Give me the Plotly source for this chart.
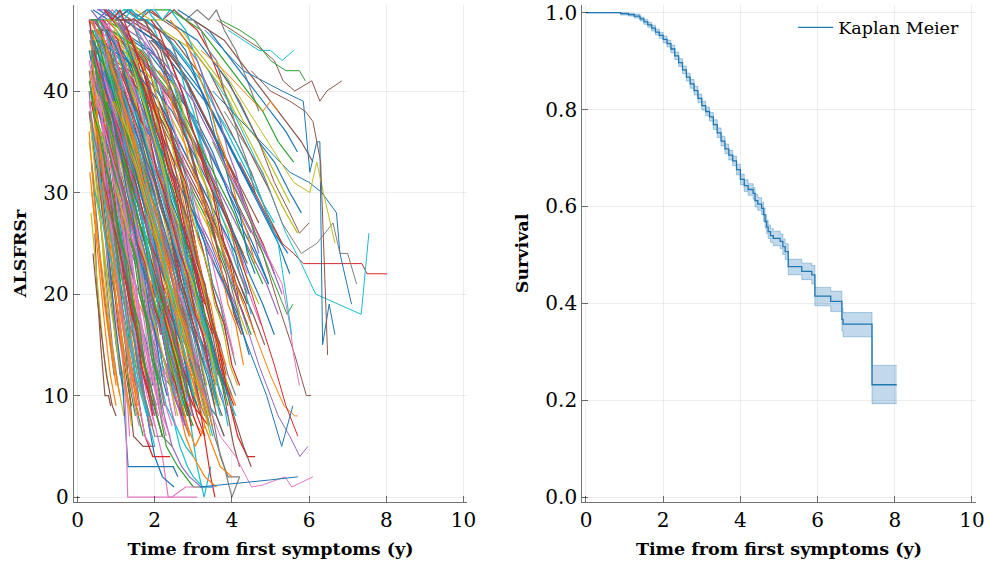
import plotly.graph_objects as go

# ---------------- DATA ----------------
# ALSFRSr trajectories: each patient is a list of [time (y), score] visits
rapid_patients = [
    [[0.32,47],[0.45,40],[0.6,31],[0.8,22],[1.0,15],[1.2,10]],
    [[0.35,44],[0.5,36],[0.7,27],[0.9,19],[1.1,12]],
    [[0.3,40],[0.45,33],[0.6,27],[0.75,21],[0.9,15],[1.05,11]],
    [[0.38,46],[0.55,41],[0.75,34],[1.0,26],[1.3,18],[1.6,11],[1.9,7]],
    [[0.42,38],[0.55,30],[0.7,22],[0.85,16],[1.0,12],[1.2,8]],
    [[0.45,26],[0.5,21],[0.6,15],[0.71,10],[0.8,10],[0.86,9]],
    [[0.36,43],[0.5,37],[0.7,30],[0.95,23],[1.2,16],[1.45,10],[1.7,6]],
    [[0.4,47],[0.6,43],[0.8,36],[1.05,28],[1.3,21],[1.55,14],[1.8,8],[2.0,5]],
    [[0.3,39],[0.5,34],[0.7,26],[0.9,20],[1.15,14],[1.3,9],[1.35,6]],
    [[0.45,45],[0.6,38],[0.8,30],[1.0,25],[1.25,19],[1.5,12],[1.65,8]],
    [[0.33,37],[0.48,31],[0.65,25],[0.85,19],[1.05,14],[1.25,11],[1.4,7]],
    [[0.5,47],[0.7,44],[0.9,38],[1.1,31],[1.3,24],[1.5,17],[1.7,11],[1.9,6]],
    [[0.36,33],[0.5,27],[0.65,21],[0.82,16],[0.95,12]],
    [[0.55,46],[0.75,40],[0.95,33],[1.15,27],[1.35,20],[1.55,15],[1.8,10],[2.0,7]],
    [[0.4,42],[0.55,35],[0.72,29],[0.9,22],[1.1,17],[1.3,12],[1.5,8]],
    [[0.6,44],[0.8,37],[1.0,31],[1.2,26],[1.4,20],[1.6,16],[1.85,11]],
    [[0.32,46],[0.5,42],[0.7,38],[0.9,33],[1.1,28],[1.3,22],[1.55,17],[1.8,12],[2.05,9]],
    [[0.44,40],[0.6,32],[0.78,25],[0.95,18],[1.15,12],[1.25,6],[1.31,3],[2.48,3],[2.6,2]],
    [[0.5,43],[0.65,36],[0.85,28],[1.05,20],[1.2,13],[1.25,8],[1.3,0],[2.44,0],[2.8,1],[3.17,1]],
    [[0.35,47],[0.55,45],[0.75,39],[1.0,33],[1.2,26],[1.45,20],[1.7,13],[1.95,9]],
    [[0.6,47],[0.8,42],[1.0,35],[1.25,28],[1.5,21],[1.75,14],[2.0,9],[2.2,6]],
    [[0.38,41],[0.52,34],[0.7,27],[0.88,23],[1.05,18],[1.25,13],[1.45,10],[1.6,8]],
    [[0.7,47],[0.9,41],[1.1,36],[1.3,30],[1.5,24],[1.7,18],[1.9,13],[2.1,9],[2.3,6]],
    [[0.3,36],[0.42,30],[0.56,24],[0.7,19],[0.88,14],[1.0,11]],
    [[0.45,47],[0.65,46],[0.85,42],[1.05,36],[1.3,30],[1.5,24],[1.75,18],[2.0,12],[2.2,8]],
    [[0.35,45],[0.48,39],[0.62,32],[0.78,27],[0.95,21],[1.1,16],[1.25,11],[1.38,8]],
    [[0.55,41],[0.7,35],[0.88,30],[1.08,24],[1.28,18],[1.45,13],[1.6,9],[1.75,6],[1.9,5]],
    [[0.4,39],[0.55,35],[0.75,29],[0.95,24],[1.15,18],[1.35,14],[1.55,9]],
    [[0.65,45],[0.85,40],[1.05,34],[1.25,27],[1.45,22],[1.7,16],[1.95,12],[2.2,8],[2.4,6]],
    [[0.33,42],[0.5,38],[0.65,33],[0.8,28],[1.0,22],[1.2,17],[1.4,12],[1.55,10]],
    [[0.8,47],[1.0,43],[1.2,37],[1.4,31],[1.6,25],[1.8,19],[2.0,14],[2.2,10],[2.45,7]],
    [[0.5,38],[0.66,31],[0.84,26],[1.0,21],[1.2,16],[1.4,12],[1.55,9]],
    [[0.42,47],[0.58,44],[0.78,40],[0.98,35],[1.18,29],[1.4,23],[1.62,18],[1.85,13],[2.1,9]],
    [[0.37,30],[0.5,26],[0.65,22],[0.8,17],[0.95,13],[1.1,10]],
    [[0.58,36],[0.75,30],[0.95,24],[1.12,19],[1.3,14],[1.48,9],[1.6,7]],
]

typical_patients = [
    [[0.5,46],[0.8,44],[1.1,40],[1.4,36],[1.7,31],[2.0,27],[2.3,22],[2.6,18],[2.9,14]],
    [[0.6,47],[0.9,45],[1.2,42],[1.5,37],[1.8,33],[2.1,28],[2.4,24],[2.7,20],[3.0,15],[3.2,12]],
    [[0.45,43],[0.7,40],[1.0,35],[1.3,31],[1.6,27],[1.9,23],[2.2,19],[2.5,15],[2.8,11],[3.0,9]],
    [[0.7,45],[1.0,42],[1.3,38],[1.6,35],[1.9,30],[2.2,26],[2.5,21],[2.8,17],[3.1,13]],
    [[0.55,41],[0.85,37],[1.15,33],[1.45,28],[1.75,24],[2.05,20],[2.35,15],[2.6,11],[2.85,8]],
    [[0.9,47],[1.2,46],[1.5,42],[1.8,38],[2.1,34],[2.4,29],[2.7,25],[3.0,20],[3.3,16],[3.55,12]],
    [[0.4,45],[0.65,43],[0.95,38],[1.25,33],[1.55,28],[1.85,23],[2.15,18],[2.4,14],[2.6,10]],
    [[0.75,43],[1.05,40],[1.35,36],[1.65,31],[1.95,27],[2.25,22],[2.55,18],[2.85,13],[3.1,10],[3.3,7]],
    [[0.5,47],[0.75,46],[1.0,45],[1.3,41],[1.6,37],[1.9,32],[2.2,28],[2.5,23],[2.8,19],[3.1,15],[3.35,11]],
    [[0.65,40],[0.95,37],[1.25,33],[1.55,30],[1.85,26],[2.15,21],[2.45,17],[2.75,13],[3.0,10]],
    [[1.0,45],[1.3,43],[1.6,39],[1.9,36],[2.2,31],[2.5,27],[2.8,22],[3.1,18],[3.4,14],[3.6,10]],
    [[0.35,43],[0.6,39],[0.9,36],[1.2,32],[1.5,27],[1.8,22],[2.1,18],[2.35,13],[2.6,9],[2.75,7]],
    [[0.8,46],[1.1,44],[1.4,40],[1.7,37],[2.0,33],[2.3,30],[2.6,26],[2.9,22],[3.2,18],[3.5,14],[3.75,11]],
    [[0.55,44],[0.8,41],[1.1,37],[1.4,34],[1.7,29],[2.0,25],[2.3,21],[2.6,17],[2.9,12],[3.1,8]],
    [[1.1,47],[1.4,45],[1.7,42],[2.0,38],[2.3,34],[2.6,30],[2.9,25],[3.2,21],[3.5,17],[3.8,13]],
    [[0.45,39],[0.7,36],[1.0,33],[1.3,28],[1.6,24],[1.9,20],[2.2,16],[2.5,13],[2.75,10],[2.95,8]],
    [[0.62,47],[0.9,45],[1.2,43],[1.5,39],[1.8,35],[2.1,31],[2.4,27],[2.7,22],[3.0,19],[3.3,15],[3.5,11]],
    [[0.85,42],[1.15,40],[1.45,36],[1.75,32],[2.05,28],[2.35,24],[2.65,20],[2.95,15],[3.25,11],[3.45,8]],
    [[0.5,45],[0.78,42],[1.05,39],[1.35,35],[1.65,30],[1.95,26],[2.25,21],[2.55,16],[2.8,13]],
    [[0.7,38],[1.0,35],[1.3,31],[1.6,27],[1.9,23],[2.2,18],[2.5,14],[2.75,10],[2.95,7]],
    [[0.95,46],[1.25,43],[1.55,40],[1.85,35],[2.15,31],[2.45,26],[2.75,22],[3.05,17],[3.35,13],[3.6,9]],
    [[0.4,47],[0.6,46],[0.9,43],[1.2,39],[1.5,35],[1.8,30],[2.1,25],[2.4,21],[2.7,17],[3.0,12],[3.2,9]],
    [[0.6,43],[0.9,40],[1.2,37],[1.5,32],[1.8,29],[2.1,25],[2.4,20],[2.7,16],[3.0,13],[3.25,10]],
    [[1.2,46],[1.5,44],[1.8,41],[2.1,37],[2.4,33],[2.7,29],[3.0,25],[3.3,20],[3.6,16],[3.85,12]],
    [[0.5,42],[0.75,38],[1.05,34],[1.35,30],[1.65,25],[1.95,20],[2.25,16],[2.5,12],[2.7,9]],
    [[0.75,47],[1.0,46],[1.3,44],[1.6,40],[1.9,36],[2.2,32],[2.5,28],[2.8,24],[3.1,19],[3.4,15],[3.65,12]],
    [[0.48,40],[0.75,37],[1.05,34],[1.35,29],[1.65,25],[1.95,21],[2.25,18],[2.55,14],[2.8,10]],
    [[0.9,44],[1.2,41],[1.5,38],[1.8,34],[2.1,30],[2.4,26],[2.7,21],[3.0,17],[3.3,14],[3.5,11]],
    [[0.55,46],[0.85,43],[1.15,39],[1.45,34],[1.75,30],[2.05,25],[2.35,21],[2.65,16],[2.9,12],[3.1,9]],
    [[0.65,39],[0.95,36],[1.25,32],[1.55,29],[1.85,24],[2.15,20],[2.45,16],[2.75,12],[3.0,8],[3.2,6]],
    [[1.05,43],[1.35,41],[1.65,37],[1.95,33],[2.25,29],[2.55,25],[2.85,21],[3.15,16],[3.45,12],[3.7,9]],
    [[0.42,44],[0.65,41],[0.95,37],[1.25,33],[1.55,29],[1.85,24],[2.15,19],[2.45,15],[2.7,11],[2.9,8]],
    [[0.8,41],[1.1,38],[1.4,35],[1.7,31],[2.0,27],[2.3,22],[2.6,19],[2.9,15],[3.2,11],[3.4,8]],
    [[0.58,47],[0.85,45],[1.15,41],[1.45,37],[1.75,33],[2.05,29],[2.35,24],[2.65,20],[2.95,15],[3.2,12]],
    [[1.3,45],[1.6,42],[1.9,39],[2.2,35],[2.5,31],[2.8,27],[3.1,23],[3.4,18],[3.7,14],[3.95,10]],
    [[0.5,37],[0.8,34],[1.1,30],[1.4,27],[1.7,23],[2.0,19],[2.3,15],[2.55,11],[2.75,8]],
    [[0.7,44],[1.0,41],[1.3,38],[1.6,34],[1.9,29],[2.2,26],[2.5,22],[2.8,18],[3.1,13],[3.35,10]],
    [[0.95,47],[1.25,45],[1.55,42],[1.85,38],[2.15,34],[2.45,30],[2.75,26],[3.05,22],[3.35,17],[3.65,13],[3.9,10]],
    [[0.45,41],[0.72,38],[1.0,35],[1.3,31],[1.6,26],[1.9,22],[2.2,17],[2.5,13],[2.7,10]],
    [[0.6,45],[0.9,42],[1.2,38],[1.5,35],[1.8,31],[2.1,27],[2.4,22],[2.7,18],[3.0,14],[3.25,10]],
    [[1.15,44],[1.45,42],[1.75,38],[2.05,34],[2.35,30],[2.65,27],[2.95,22],[3.25,18],[3.55,14],[3.8,11]],
    [[0.38,46],[0.6,44],[0.85,40],[1.15,36],[1.45,32],[1.75,27],[2.05,23],[2.35,18],[2.6,14],[2.85,10]],
    [[0.85,40],[1.15,37],[1.45,34],[1.75,30],[2.05,26],[2.35,23],[2.65,18],[2.95,14],[3.2,10],[3.4,7]],
    [[0.52,43],[0.8,40],[1.1,36],[1.4,32],[1.7,28],[2.0,24],[2.3,19],[2.6,15],[2.85,11]],
    [[0.7,47],[0.95,47],[1.25,45],[1.55,41],[1.85,37],[2.15,33],[2.45,28],[2.75,24],[3.05,20],[3.35,16],[3.6,12]],
    [[1.0,41],[1.3,38],[1.6,35],[1.9,31],[2.2,27],[2.5,23],[2.8,19],[3.1,15],[3.35,12],[3.55,9]],
    [[0.48,44],[0.75,42],[1.05,38],[1.35,35],[1.65,31],[1.95,27],[2.25,23],[2.55,19],[2.85,15],[3.1,11]],
    [[0.65,42],[0.95,39],[1.25,35],[1.55,31],[1.85,28],[2.15,23],[2.45,19],[2.75,14],[3.0,10]],
    [[1.4,47],[1.7,45],[2.0,42],[2.3,39],[2.6,35],[2.9,31],[3.2,27],[3.5,23],[3.8,18],[4.05,14]],
    [[0.42,38],[0.68,35],[0.95,31],[1.25,27],[1.55,23],[1.85,19],[2.15,15],[2.4,11],[2.6,8]],
    [[0.75,46],[1.05,44],[1.35,40],[1.65,36],[1.95,32],[2.25,28],[2.55,24],[2.85,20],[3.15,16],[3.45,12],[3.65,9]],
    [[0.55,40],[0.85,38],[1.15,34],[1.45,30],[1.75,27],[2.05,22],[2.35,18],[2.65,14],[2.9,10]],
    [[1.2,43],[1.5,40],[1.8,37],[2.1,33],[2.4,29],[2.7,25],[3.0,21],[3.3,17],[3.6,13],[3.85,10]],
    [[0.6,47],[0.88,46],[1.18,43],[1.48,40],[1.78,36],[2.08,31],[2.38,27],[2.68,23],[2.98,18],[3.28,14],[3.5,11]],
    [[0.9,39],[1.2,36],[1.5,33],[1.8,29],[2.1,25],[2.4,21],[2.7,17],[3.0,13],[3.25,9],[3.45,6]],
]

dense_patients = [
    [[0.3,47],[0.5,46],[0.7,44],[0.9,41],[1.1,39],[1.3,36],[1.5,34],[1.7,31],[1.9,29],[2.1,27],[2.3,24],[2.5,22]],
    [[0.4,45],[0.55,44],[0.75,40],[0.95,38],[1.15,33],[1.35,31],[1.55,27],[1.75,25],[1.95,21],[2.15,19],[2.35,15]],
    [[0.5,47],[0.7,47],[0.9,45],[1.1,44],[1.3,40],[1.5,39],[1.7,35],[1.9,33],[2.1,30],[2.3,27],[2.5,25],[2.7,21],[2.9,19]],
    [[0.35,42],[0.5,40],[0.7,38],[0.85,35],[1.0,34],[1.2,30],[1.4,28],[1.6,24],[1.8,22],[2.0,18],[2.2,16],[2.4,12]],
    [[0.6,44],[0.8,43],[1.0,40],[1.2,39],[1.4,35],[1.6,33],[1.8,30],[2.0,27],[2.2,25],[2.4,21],[2.6,19],[2.8,15],[3.0,13]],
    [[0.45,40],[0.6,37],[0.8,35],[1.0,31],[1.2,29],[1.4,25],[1.6,23],[1.8,19],[2.0,17],[2.2,13],[2.4,11],[2.55,8]],
    [[0.9,47],[1.1,46],[1.3,45],[1.5,42],[1.7,41],[1.9,37],[2.1,36],[2.3,32],[2.5,30],[2.7,27],[2.9,24],[3.1,22],[3.3,18],[3.5,16]],
    [[0.3,44],[0.45,41],[0.6,39],[0.75,35],[0.9,33],[1.05,29],[1.2,27],[1.35,23],[1.5,21],[1.65,17],[1.8,15],[1.95,11]],
    [[0.7,46],[0.9,44],[1.1,43],[1.3,40],[1.5,38],[1.7,35],[1.9,33],[2.1,29],[2.3,27],[2.5,23],[2.7,21],[2.9,17],[3.1,15],[3.3,11]],
    [[0.5,43],[0.7,42],[0.9,39],[1.1,36],[1.3,35],[1.5,31],[1.7,28],[1.9,26],[2.1,22],[2.3,20],[2.5,16],[2.7,13],[2.9,11]],
    [[1.2,47],[1.4,47],[1.6,45],[1.8,44],[2.0,41],[2.2,39],[2.4,36],[2.6,34],[2.8,30],[3.0,28],[3.2,25],[3.4,22],[3.6,19],[3.8,16]],
    [[0.4,47],[0.55,45],[0.7,42],[0.85,40],[1.0,37],[1.15,34],[1.3,31],[1.45,29],[1.6,25],[1.75,23],[1.9,19],[2.05,17],[2.2,13],[2.35,10]],
    [[0.8,42],[1.0,40],[1.2,38],[1.4,35],[1.6,33],[1.8,30],[2.0,27],[2.2,25],[2.4,22],[2.6,19],[2.8,17],[3.0,13],[3.2,11],[3.4,9]],
    [[0.6,47],[0.8,46],[1.0,44],[1.2,42],[1.4,39],[1.6,37],[1.8,34],[2.0,31],[2.2,28],[2.4,26],[2.6,22],[2.8,20],[3.0,16],[3.2,14]],
    [[0.35,39],[0.5,36],[0.65,34],[0.8,30],[0.95,28],[1.1,24],[1.25,22],[1.4,18],[1.55,16],[1.7,12],[1.85,10],[2.0,8]],
    [[1.5,46],[1.7,45],[1.9,43],[2.1,41],[2.3,38],[2.5,36],[2.7,33],[2.9,31],[3.1,27],[3.3,25],[3.5,21],[3.7,19],[3.9,15]],
    [[0.55,45],[0.75,43],[0.95,41],[1.15,38],[1.35,36],[1.55,32],[1.75,30],[1.95,26],[2.15,24],[2.35,20],[2.55,18],[2.75,14],[2.95,12]],
    [[1.0,44],[1.2,43],[1.4,40],[1.6,38],[1.8,36],[2.0,33],[2.2,31],[2.4,27],[2.6,25],[2.8,22],[3.0,19],[3.2,17],[3.4,13],[3.6,11]],
    [[0.3,46],[0.45,44],[0.6,41],[0.75,39],[0.9,36],[1.05,33],[1.2,31],[1.35,27],[1.5,25],[1.65,21],[1.8,19],[1.95,15],[2.1,13],[2.25,9]],
    [[0.75,39],[0.95,37],[1.15,34],[1.35,32],[1.55,29],[1.75,26],[1.95,24],[2.15,20],[2.35,18],[2.55,14],[2.75,12],[2.95,9]],
    [[1.3,47],[1.5,46],[1.7,44],[1.9,43],[2.1,40],[2.3,38],[2.5,35],[2.7,33],[2.9,30],[3.1,27],[3.3,25],[3.5,21],[3.7,19],[3.9,16],[4.1,13]],
    [[0.45,47],[0.6,46],[0.8,43],[0.95,41],[1.15,38],[1.3,36],[1.5,32],[1.65,30],[1.85,26],[2.0,24],[2.2,20],[2.35,18],[2.55,14],[2.7,11]],
    [[0.9,41],[1.1,39],[1.3,36],[1.5,34],[1.7,31],[1.9,28],[2.1,26],[2.3,22],[2.5,20],[2.7,16],[2.9,14],[3.1,10],[3.3,8]],
    [[0.65,43],[0.85,41],[1.05,38],[1.25,36],[1.45,33],[1.65,30],[1.85,28],[2.05,24],[2.25,22],[2.45,18],[2.65,16],[2.85,12],[3.05,10]],
    [[1.7,47],[1.9,46],[2.1,45],[2.3,43],[2.5,41],[2.7,38],[2.9,36],[3.1,33],[3.3,31],[3.5,28],[3.7,25],[3.9,22],[4.1,19],[4.3,16]],
    [[0.4,43],[0.55,41],[0.7,38],[0.85,36],[1.0,32],[1.15,30],[1.3,26],[1.45,24],[1.6,20],[1.75,18],[1.9,14],[2.05,12],[2.2,8]],
    [[1.1,45],[1.3,44],[1.5,41],[1.7,39],[1.9,36],[2.1,34],[2.3,31],[2.5,28],[2.7,26],[2.9,22],[3.1,20],[3.3,16],[3.5,14],[3.7,10]],
    [[0.5,41],[0.7,39],[0.9,36],[1.1,34],[1.3,31],[1.5,28],[1.7,26],[1.9,22],[2.1,20],[2.3,16],[2.5,14],[2.7,10],[2.85,8]],
    [[0.85,47],[1.05,47],[1.25,45],[1.45,44],[1.65,41],[1.85,39],[2.05,36],[2.25,34],[2.45,30],[2.65,28],[2.85,24],[3.05,22],[3.25,18],[3.45,16],[3.65,12]],
    [[0.3,41],[0.45,38],[0.6,36],[0.75,32],[0.9,30],[1.05,26],[1.2,24],[1.35,20],[1.5,18],[1.65,14],[1.8,12],[1.95,9]],
    [[1.4,44],[1.6,42],[1.8,40],[2.0,37],[2.2,35],[2.4,32],[2.6,30],[2.8,27],[3.0,24],[3.2,22],[3.4,18],[3.6,16],[3.8,12],[4.0,10]],
    [[0.6,40],[0.8,38],[1.0,35],[1.2,33],[1.4,30],[1.6,27],[1.8,25],[2.0,21],[2.2,19],[2.4,15],[2.6,13],[2.8,9],[3.0,7]],
    [[0.95,45],[1.15,44],[1.35,41],[1.55,39],[1.75,36],[1.95,34],[2.15,31],[2.35,28],[2.55,26],[2.75,22],[2.95,20],[3.15,16],[3.35,14],[3.55,10]],
    [[0.35,47],[0.5,47],[0.65,45],[0.8,43],[0.95,40],[1.1,38],[1.25,35],[1.4,33],[1.55,29],[1.7,27],[1.85,23],[2.0,21],[2.15,17],[2.3,15],[2.45,11]],
    [[2.0,47],[2.2,46],[2.4,45],[2.6,43],[2.8,41],[3.0,39],[3.2,36],[3.4,34],[3.6,31],[3.8,28],[4.0,26],[4.2,22],[4.4,20]],
    [[0.7,36],[0.9,34],[1.1,31],[1.3,29],[1.5,26],[1.7,23],[1.9,21],[2.1,17],[2.3,15],[2.5,11],[2.7,9],[2.9,6]],
    [[1.15,42],[1.35,40],[1.55,38],[1.75,35],[1.95,33],[2.15,30],[2.35,28],[2.55,24],[2.75,22],[2.95,19],[3.15,16],[3.35,14],[3.55,10],[3.75,8]],
    [[0.5,44],[0.65,43],[0.85,40],[1.0,38],[1.2,35],[1.35,33],[1.55,29],[1.7,27],[1.9,23],[2.05,21],[2.25,17],[2.4,15],[2.6,11],[2.75,9]],
    [[1.6,44],[1.8,43],[2.0,40],[2.2,38],[2.4,36],[2.6,33],[2.8,31],[3.0,27],[3.2,25],[3.4,22],[3.6,19],[3.8,17],[4.0,13],[4.2,11]],
    [[0.75,45],[0.95,44],[1.15,41],[1.35,39],[1.55,36],[1.75,33],[1.95,31],[2.15,27],[2.35,25],[2.55,21],[2.75,19],[2.95,15],[3.15,13]],
    [[0.38,36],[0.5,33],[0.65,30],[0.8,27],[0.95,24],[1.1,21],[1.25,18],[1.4,15],[1.55,12],[1.7,10],[1.85,8]],
    [[1.25,46],[1.45,45],[1.65,43],[1.85,41],[2.05,38],[2.25,36],[2.45,33],[2.65,31],[2.85,27],[3.05,25],[3.25,21],[3.45,19],[3.65,15],[3.85,13]],
    [[0.55,38],[0.75,36],[0.95,33],[1.15,31],[1.35,28],[1.55,25],[1.75,23],[1.95,19],[2.15,17],[2.35,13],[2.55,11],[2.7,8]],
    [[1.85,45],[2.05,44],[2.25,42],[2.45,40],[2.65,37],[2.85,35],[3.05,32],[3.25,30],[3.45,27],[3.65,24],[3.85,22],[4.05,18],[4.25,16]],
    [[0.8,44],[1.0,42],[1.2,40],[1.4,37],[1.6,35],[1.8,32],[2.0,30],[2.2,26],[2.4,24],[2.6,20],[2.8,18],[3.0,14],[3.2,12],[3.4,9]],
    [[0.42,46],[0.58,45],[0.72,43],[0.88,41],[1.02,38],[1.18,36],[1.32,33],[1.48,31],[1.62,28],[1.78,25],[1.92,22],[2.08,19],[2.22,16],[2.38,13],[2.52,10]],
    [[1.05,40],[1.25,38],[1.45,35],[1.65,33],[1.85,30],[2.05,28],[2.25,24],[2.45,22],[2.65,18],[2.85,16],[3.05,12],[3.25,10],[3.4,7]],
    [[0.65,47],[0.85,46],[1.05,45],[1.25,42],[1.45,41],[1.65,37],[1.85,36],[2.05,32],[2.25,30],[2.45,27],[2.65,24],[2.85,22],[3.05,18],[3.25,16],[3.45,12]],
    [[2.2,44],[2.4,43],[2.6,41],[2.8,39],[3.0,36],[3.2,34],[3.4,31],[3.6,29],[3.8,25],[4.0,23],[4.2,19],[4.4,17]],
    [[0.32,38],[0.45,35],[0.6,33],[0.75,29],[0.9,27],[1.05,23],[1.2,21],[1.35,17],[1.5,15],[1.65,11],[1.8,9],[1.95,7]],
    [[1.35,41],[1.55,40],[1.75,37],[1.95,35],[2.15,32],[2.35,30],[2.55,27],[2.75,24],[2.95,22],[3.15,18],[3.35,16],[3.55,12],[3.75,10],[3.9,7]],
    [[0.5,46],[0.7,45],[0.9,42],[1.1,40],[1.3,37],[1.5,35],[1.7,31],[1.9,29],[2.1,25],[2.3,23],[2.5,19],[2.7,17],[2.9,13],[3.1,11]],
    [[0.9,38],[1.1,36],[1.3,33],[1.5,31],[1.7,28],[1.9,25],[2.1,23],[2.3,19],[2.5,17],[2.7,13],[2.9,11],[3.1,8],[3.3,6]],
    [[1.55,47],[1.75,47],[1.95,45],[2.15,44],[2.35,41],[2.55,39],[2.75,36],[2.95,34],[3.15,31],[3.35,28],[3.55,26],[3.75,22],[3.95,20],[4.15,17]],
    [[0.45,42],[0.6,40],[0.75,37],[0.9,35],[1.05,32],[1.2,30],[1.35,26],[1.5,24],[1.65,20],[1.8,18],[1.95,14],[2.1,12],[2.25,9]],
    [[1.0,46],[1.2,45],[1.4,43],[1.6,41],[1.8,38],[2.0,36],[2.2,33],[2.4,30],[2.6,28],[2.8,24],[3.0,22],[3.2,18],[3.4,16],[3.6,12]],
    [[0.7,42],[0.9,40],[1.1,37],[1.3,35],[1.5,32],[1.7,29],[1.9,27],[2.1,23],[2.3,21],[2.5,17],[2.7,15],[2.9,11],[3.1,9]],
    [[2.4,47],[2.6,46],[2.8,45],[3.0,43],[3.2,41],[3.4,39],[3.6,36],[3.8,34],[4.0,31],[4.2,28],[4.4,26],[4.6,23]],
    [[0.35,44],[0.5,42],[0.65,40],[0.8,37],[0.95,35],[1.1,31],[1.25,29],[1.4,25],[1.55,23],[1.7,19],[1.85,17],[2.0,13],[2.15,11]],
    [[1.45,43],[1.65,41],[1.85,39],[2.05,36],[2.25,34],[2.45,31],[2.65,29],[2.85,25],[3.05,23],[3.25,20],[3.45,17],[3.65,15],[3.85,11],[4.05,9]],
    [[0.6,37],[0.8,35],[1.0,32],[1.2,30],[1.4,27],[1.6,24],[1.8,22],[2.0,18],[2.2,16],[2.4,12],[2.6,10],[2.8,7]],
    [[1.1,47],[1.3,46],[1.5,44],[1.7,43],[1.9,40],[2.1,38],[2.3,35],[2.5,33],[2.7,29],[2.9,27],[3.1,23],[3.3,21],[3.5,17],[3.7,15]],
    [[0.3,43],[0.45,40],[0.6,38],[0.75,34],[0.9,32],[1.05,28],[1.2,26],[1.35,22],[1.5,20],[1.65,16],[1.8,14],[1.95,10],[2.1,8]],
    [[0.85,43],[1.05,41],[1.25,39],[1.45,36],[1.65,34],[1.85,31],[2.05,29],[2.25,25],[2.45,23],[2.65,19],[2.85,17],[3.05,13],[3.25,11],[3.45,8]],
    [[1.75,42],[1.95,41],[2.15,38],[2.35,36],[2.55,33],[2.75,31],[2.95,28],[3.15,25],[3.35,23],[3.55,19],[3.75,17],[3.95,13],[4.15,11]],
    [[0.55,47],[0.7,46],[0.9,44],[1.05,42],[1.25,39],[1.4,37],[1.6,34],[1.75,31],[1.95,28],[2.1,26],[2.3,22],[2.45,20],[2.65,16],[2.8,14],[3.0,10]],
    [[2.6,45],[2.8,44],[3.0,42],[3.2,40],[3.4,38],[3.6,35],[3.8,33],[4.0,30],[4.2,28],[4.4,24],[4.6,22]],
    [[0.95,39],[1.15,37],[1.35,34],[1.55,32],[1.75,29],[1.95,26],[2.15,24],[2.35,20],[2.55,18],[2.75,14],[2.95,12],[3.15,9]],
    [[0.4,38],[0.55,36],[0.7,33],[0.85,31],[1.0,28],[1.15,25],[1.3,23],[1.45,19],[1.6,17],[1.75,13],[1.9,11],[2.05,8],[2.2,6]],
    [[1.9,47],[2.1,46],[2.3,44],[2.5,42],[2.7,40],[2.9,37],[3.1,35],[3.3,32],[3.5,30],[3.7,26],[3.9,24],[4.1,20],[4.3,18]],
    [[0.65,41],[0.85,39],[1.05,36],[1.25,34],[1.45,31],[1.65,28],[1.85,26],[2.05,22],[2.25,20],[2.45,16],[2.65,14],[2.85,10],[3.0,8]],
    [[1.2,40],[1.4,38],[1.6,36],[1.8,33],[2.0,31],[2.2,28],[2.4,26],[2.6,22],[2.8,20],[3.0,17],[3.2,14],[3.4,12],[3.6,8],[3.8,6]],
    [[0.5,39],[0.65,37],[0.85,34],[1.0,32],[1.2,29],[1.35,26],[1.55,24],[1.7,20],[1.9,18],[2.05,14],[2.25,12],[2.4,9],[2.55,7]],
    [[2.8,47],[3.0,47],[3.2,46],[3.4,44],[3.6,43],[3.8,40],[4.0,38],[4.2,35],[4.4,33],[4.6,30]],
    [[0.8,47],[1.0,46],[1.2,44],[1.4,43],[1.6,40],[1.8,38],[2.0,35],[2.2,33],[2.4,29],[2.6,27],[2.8,23],[3.0,21],[3.2,17],[3.4,15],[3.6,11]],
    [[1.5,38],[1.7,36],[1.9,33],[2.1,31],[2.3,28],[2.5,25],[2.7,23],[2.9,19],[3.1,17],[3.3,13],[3.5,11],[3.7,8]],
    [[0.38,45],[0.52,44],[0.68,41],[0.82,39],[0.98,36],[1.12,34],[1.28,30],[1.42,28],[1.58,24],[1.72,22],[1.88,18],[2.02,16],[2.18,12],[2.32,10]],
    [[2.1,42],[2.3,41],[2.5,38],[2.7,36],[2.9,33],[3.1,31],[3.3,28],[3.5,25],[3.7,23],[3.9,19],[4.1,17],[4.3,13]],
    [[1.3,44],[1.5,42],[1.7,40],[1.9,37],[2.1,35],[2.3,32],[2.5,30],[2.7,26],[2.9,24],[3.1,20],[3.3,18],[3.5,14],[3.7,12],[3.9,9]],
    [[0.7,48],[0.9,47],[1.1,48],[1.3,46],[1.5,44],[1.7,42],[1.9,39],[2.1,37],[2.3,33],[2.5,31],[2.7,27],[2.9,25],[3.1,21],[3.3,19]],
]

extra_patients = [
    [[0.3,47],[0.4,45],[0.5,42],[0.6,38],[0.7,35],[0.8,31],[0.9,28],[1.0,24],[1.1,21],[1.2,17],[1.3,14]],
    [[0.32,45],[0.45,43],[0.55,39],[0.7,36],[0.8,33],[0.95,29],[1.05,27],[1.2,23],[1.3,20],[1.45,16],[1.55,13],[1.7,10]],
    [[0.3,42],[0.4,39],[0.5,37],[0.6,34],[0.75,30],[0.85,27],[1.0,24],[1.1,20],[1.25,17],[1.35,14],[1.5,11]],
    [[0.35,47],[0.45,46],[0.6,44],[0.75,41],[0.9,39],[1.05,35],[1.2,33],[1.35,29],[1.5,27],[1.65,23],[1.8,21],[1.95,17],[2.1,14]],
    [[0.4,46],[0.5,43],[0.6,41],[0.7,37],[0.8,35],[0.9,32],[1.0,29],[1.1,27],[1.2,23],[1.3,21],[1.4,17],[1.5,15],[1.6,12]],
    [[0.3,35],[0.4,32],[0.5,29],[0.6,27],[0.7,24],[0.8,21],[0.9,19],[1.0,16],[1.1,13],[1.2,11],[1.3,9]],
    [[0.55,47],[0.65,47],[0.8,45],[0.9,43],[1.05,41],[1.15,38],[1.3,36],[1.4,33],[1.55,30],[1.65,28],[1.8,24],[1.9,22],[2.05,18],[2.15,16]],
    [[0.33,40],[0.43,38],[0.55,35],[0.65,33],[0.78,30],[0.88,27],[1.0,25],[1.12,21],[1.22,19],[1.35,15],[1.45,13],[1.58,10]],
    [[0.45,44],[0.6,42],[0.7,40],[0.85,37],[0.95,35],[1.1,32],[1.2,30],[1.35,27],[1.45,24],[1.6,22],[1.7,19],[1.85,16],[1.95,13],[2.1,11]],
    [[0.3,38],[0.42,34],[0.52,32],[0.64,28],[0.74,26],[0.86,22],[0.96,20],[1.08,16],[1.18,14],[1.3,11],[1.4,9]],
    [[1.5,20],[1.7,18],[1.9,17],[2.1,15],[2.3,13],[2.5,12],[2.7,10],[2.9,9],[3.1,7],[3.3,6]],
    [[1.2,25],[1.4,22],[1.6,20],[1.8,17],[2.0,15],[2.2,12],[2.4,11],[2.6,9],[2.8,8]],
    [[1.8,28],[2.0,26],[2.2,23],[2.4,21],[2.6,18],[2.8,16],[3.0,13],[3.2,11],[3.4,9],[3.6,8]],
    [[2.0,22],[2.2,20],[2.4,19],[2.6,16],[2.8,15],[3.0,12],[3.2,11],[3.4,9],[3.6,8],[3.8,6]],
    [[1.4,30],[1.6,27],[1.8,25],[2.0,22],[2.2,19],[2.4,17],[2.6,14],[2.8,12],[3.0,10],[3.2,8]],
    [[2.3,30],[2.5,28],[2.7,25],[2.9,23],[3.1,20],[3.3,18],[3.5,15],[3.7,13],[3.9,11],[4.1,9]],
    [[1.0,30],[1.2,27],[1.4,24],[1.6,22],[1.8,19],[2.0,16],[2.2,14],[2.4,11],[2.6,9],[2.8,7]],
    [[1.6,24],[1.8,22],[2.0,20],[2.2,18],[2.4,15],[2.6,13],[2.8,11],[3.0,9],[3.2,8],[3.4,7]],
    [[2.5,26],[2.7,24],[2.9,21],[3.1,19],[3.3,17],[3.5,14],[3.7,12],[3.9,10],[4.1,8]],
    [[0.9,33],[1.1,30],[1.3,27],[1.5,24],[1.7,21],[1.9,18],[2.1,15],[2.3,13],[2.5,10],[2.7,8]],
    [[0.6,47],[0.8,47],[1.0,48],[1.2,47],[1.4,48],[1.6,47],[1.8,47],[2.0,46],[2.2,44],[2.4,42],[2.6,39],[2.8,36],[3.0,33]],
    [[0.35,48],[0.55,47],[0.75,48],[0.95,47],[1.15,46],[1.35,44],[1.55,42],[1.75,39],[1.95,36],[2.15,33],[2.35,30]],
    [[1.2,48],[1.4,48],[1.6,47],[1.8,48],[2.0,47],[2.2,46],[2.4,45],[2.6,43],[2.8,40],[3.0,38],[3.2,35],[3.4,32]],
    [[0.5,48],[0.7,48],[0.9,47],[1.1,47],[1.3,45],[1.5,43],[1.7,40],[1.9,37],[2.1,34],[2.3,30],[2.5,27],[2.7,23]],
    [[1.8,48],[2.0,48],[2.2,47],[2.4,48],[2.6,47],[2.8,46],[3.0,44],[3.2,42],[3.4,39],[3.6,36],[3.8,33]],
    [[0.3,47],[0.45,47],[0.6,46],[0.75,46],[0.9,44],[1.05,42],[1.2,39],[1.35,37],[1.5,33],[1.65,31],[1.8,27],[1.95,25],[2.1,21],[2.25,19]],
    [[0.8,45],[0.95,45],[1.1,43],[1.25,42],[1.4,39],[1.55,37],[1.7,34],[1.85,32],[2.0,28],[2.15,26],[2.3,22],[2.45,20],[2.6,16],[2.75,14],[2.9,11]],
    [[0.5,35],[0.65,33],[0.8,30],[0.95,28],[1.1,25],[1.25,22],[1.4,20],[1.55,16],[1.7,14],[1.85,10],[2.0,8]],
    [[0.45,30],[0.6,28],[0.75,25],[0.9,23],[1.05,20],[1.2,17],[1.35,15],[1.5,12],[1.65,10],[1.8,8]],
    [[0.7,34],[0.9,32],[1.1,29],[1.3,27],[1.5,24],[1.7,21],[1.9,19],[2.1,15],[2.3,13],[2.5,10],[2.7,8],[2.9,6]],
    [[1.3,35],[1.5,33],[1.7,30],[1.9,28],[2.1,25],[2.3,22],[2.5,20],[2.7,16],[2.9,14],[3.1,11],[3.3,9],[3.5,6]],
    [[1.9,34],[2.1,32],[2.3,29],[2.5,27],[2.7,24],[2.9,21],[3.1,19],[3.3,15],[3.5,13],[3.7,10],[3.9,8]],
    [[2.7,40],[2.9,38],[3.1,36],[3.3,33],[3.5,31],[3.7,28],[3.9,26],[4.1,23],[4.3,21],[4.5,18]],
    [[2.9,44],[3.1,43],[3.3,41],[3.5,39],[3.7,37],[3.9,34],[4.1,32],[4.3,29],[4.5,27],[4.7,24]],
    [[1.1,36],[1.3,34],[1.5,31],[1.7,29],[1.9,26],[2.1,23],[2.3,21],[2.5,17],[2.7,15],[2.9,11],[3.1,9]],
    [[0.6,32],[0.75,30],[0.9,27],[1.05,25],[1.2,22],[1.35,19],[1.5,17],[1.65,13],[1.8,11],[1.95,8]],
    [[2.1,36],[2.3,34],[2.5,31],[2.7,29],[2.9,26],[3.1,23],[3.3,21],[3.5,17],[3.7,15],[3.9,12],[4.1,10]],
    [[1.7,31],[1.9,29],[2.1,26],[2.3,24],[2.5,21],[2.7,18],[2.9,16],[3.1,12],[3.3,10],[3.5,7]],
    [[0.85,28],[1.0,26],[1.15,23],[1.3,21],[1.45,18],[1.6,15],[1.75,13],[1.9,10],[2.05,8],[2.2,6]],
    [[2.4,41],[2.6,40],[2.8,37],[3.0,35],[3.2,32],[3.4,30],[3.6,27],[3.8,24],[4.0,22],[4.2,18],[4.4,16]],
]

slow_patients = [
    [[0.5,47],[0.9,47],[1.3,46],[1.7,45],[2.1,43],[2.5,41],[2.9,38],[3.3,35],[3.7,32],[4.1,29],[4.5,26]],
    [[0.7,46],[1.1,45],[1.5,44],[1.9,42],[2.3,40],[2.7,37],[3.1,34],[3.5,31],[3.9,27],[4.3,24]],
    [[0.4,44],[0.8,43],[1.2,41],[1.6,39],[2.0,37],[2.4,34],[2.8,31],[3.2,28],[3.6,25],[4.0,22],[4.3,19]],
    [[1.0,48],[1.4,47],[1.8,48],[2.2,47],[2.6,46],[3.0,44],[3.4,42],[3.8,39],[4.2,36],[4.6,33],[5.0,30]],
    [[0.6,45],[1.0,44],[1.4,42],[1.8,40],[2.2,37],[2.6,34],[3.0,30],[3.4,27],[3.8,23],[4.2,19],[4.5,16]],
    [[0.8,47],[1.2,48],[1.6,47],[2.0,47],[2.4,45],[2.8,43],[3.2,41],[3.6,38],[4.0,35],[4.4,32],[4.8,29],[5.1,27]],
    [[0.45,42],[0.85,41],[1.25,39],[1.65,37],[2.05,35],[2.45,32],[2.85,29],[3.25,26],[3.65,22],[4.0,19],[4.3,16]],
    [[1.2,47],[1.6,46],[2.0,45],[2.4,43],[2.8,41],[3.2,38],[3.6,35],[4.0,32],[4.4,28],[4.8,25],[5.1,22]],
    [[0.55,48],[0.95,47],[1.35,48],[1.75,47],[2.15,46],[2.55,44],[2.95,42],[3.35,39],[3.75,36],[4.15,33],[4.55,30]],
    [[0.9,44],[1.3,43],[1.7,41],[2.1,39],[2.5,36],[2.9,33],[3.3,30],[3.7,27],[4.1,23],[4.45,20],[4.75,17]],
    [[0.35,47],[0.75,47],[1.15,46],[1.55,44],[1.95,42],[2.35,40],[2.75,37],[3.15,34],[3.55,30],[3.95,27],[4.3,23]],
    [[1.5,48],[1.9,47],[2.3,47],[2.7,46],[3.1,44],[3.5,42],[3.9,40],[4.3,37],[4.7,35],[5.1,32],[5.5,29]],
    [[0.65,43],[1.05,42],[1.45,40],[1.85,37],[2.25,35],[2.65,32],[3.05,28],[3.45,25],[3.85,21],[4.2,18]],
    [[1.1,46],[1.5,45],[1.9,44],[2.3,42],[2.7,39],[3.1,37],[3.5,34],[3.9,30],[4.3,27],[4.65,24],[4.95,21]],
    [[0.5,46],[0.9,45],[1.3,44],[1.7,43],[2.1,41],[2.5,38],[2.9,35],[3.3,32],[3.7,29],[4.1,25],[4.4,22]],
    [[2.0,48],[2.4,48],[2.8,47],[3.2,46],[3.6,44],[4.0,42],[4.4,40],[4.8,38],[5.2,35],[5.6,33]],
    [[0.75,45],[1.15,44],[1.55,43],[1.95,41],[2.35,38],[2.75,35],[3.15,32],[3.55,29],[3.95,26],[4.35,22],[4.7,19]],
    [[1.3,44],[1.7,43],[2.1,41],[2.5,39],[2.9,36],[3.3,33],[3.7,30],[4.1,27],[4.5,24],[4.9,21],[5.2,18]],
    [[0.4,48],[0.8,47],[1.2,47],[1.6,46],[2.0,45],[2.4,43],[2.8,41],[3.2,38],[3.6,35],[4.0,31],[4.4,28]],
    [[1.7,47],[2.1,46],[2.5,45],[2.9,43],[3.3,41],[3.7,38],[4.1,35],[4.5,32],[4.9,28],[5.3,25]],
    [[0.6,42],[1.0,40],[1.4,39],[1.8,36],[2.2,34],[2.6,31],[3.0,28],[3.4,24],[3.8,21],[4.15,18],[4.45,14]],
    [[0.95,47],[1.35,47],[1.75,46],[2.15,45],[2.55,43],[2.95,40],[3.35,37],[3.75,34],[4.15,31],[4.55,27],[4.9,24]],
    [[1.4,45],[1.8,44],[2.2,42],[2.6,40],[3.0,37],[3.4,34],[3.8,31],[4.2,27],[4.6,24],[4.95,21]],
    [[0.55,44],[0.95,43],[1.35,42],[1.75,40],[2.15,38],[2.55,35],[2.95,32],[3.35,29],[3.75,25],[4.1,22],[4.4,19]],
    [[2.3,47],[2.7,46],[3.1,45],[3.5,43],[3.9,41],[4.3,38],[4.7,35],[5.1,33],[5.5,30],[5.8,28]],
    [[0.8,43],[1.2,42],[1.6,40],[2.0,38],[2.4,35],[2.8,32],[3.2,29],[3.6,26],[4.0,22],[4.35,19],[4.6,16]],
    [[1.6,46],[2.0,45],[2.4,44],[2.8,42],[3.2,40],[3.6,37],[4.0,34],[4.4,31],[4.8,28],[5.2,25],[5.5,22]],
    [[0.45,46],[0.85,46],[1.25,45],[1.65,43],[2.05,41],[2.45,39],[2.85,36],[3.25,33],[3.65,30],[4.05,26],[4.4,23]],
    [[1.9,45],[2.3,44],[2.7,42],[3.1,40],[3.5,38],[3.9,35],[4.3,32],[4.7,29],[5.1,26],[5.45,24]],
    [[1.0,42],[1.4,41],[1.8,39],[2.2,37],[2.6,34],[3.0,31],[3.4,28],[3.8,25],[4.2,21],[4.55,18],[4.85,15]],
    [[2.6,48],[3.0,47],[3.4,46],[3.8,44],[4.2,42],[4.6,40],[5.0,38],[5.4,36],[5.7,34]],
    [[0.7,48],[1.1,47],[1.5,47],[1.9,46],[2.3,44],[2.7,42],[3.1,39],[3.5,36],[3.9,33],[4.3,30],[4.7,27]],
    [[1.25,43],[1.65,42],[2.05,40],[2.45,38],[2.85,35],[3.25,32],[3.65,29],[4.05,26],[4.45,22],[4.8,19],[5.1,16]],
    [[3.0,47],[3.4,46],[3.8,45],[4.2,43],[4.6,41],[5.0,39],[5.4,37],[5.8,35],[6.1,33]],
    [[0.5,45],[0.9,44],[1.3,43],[1.7,41],[2.1,39],[2.5,36],[2.9,33],[3.3,30],[3.7,27],[4.1,24],[4.45,20]],
    [[1.8,44],[2.2,43],[2.6,41],[3.0,39],[3.4,36],[3.8,33],[4.2,30],[4.6,26],[5.0,23],[5.3,20]],
    [[2.2,46],[2.6,45],[3.0,44],[3.4,42],[3.8,40],[4.2,37],[4.6,34],[5.0,31],[5.4,28],[5.7,26]],
    [[0.85,46],[1.25,45],[1.65,44],[2.05,42],[2.45,40],[2.85,37],[3.25,34],[3.65,31],[4.05,28],[4.45,24],[4.8,21]],
]

floor_patients = [
    [[0.6,38],[0.8,32],[1.0,25],[1.2,17],[1.35,10],[1.45,6],[1.7,5],[2.0,5]],
    [[0.9,44],[1.1,38],[1.35,31],[1.6,23],[1.85,16],[2.05,10],[2.3,5],[2.6,3],[3.0,1],[3.3,1]],
    [[1.2,45],[1.5,40],[1.8,34],[2.1,27],[2.4,20],[2.7,13],[2.9,8],[3.1,3],[3.28,0],[3.45,3]],
    [[0.7,41],[0.95,35],[1.2,28],[1.45,21],[1.7,14],[1.95,8],[2.2,4],[2.35,0],[3.1,0]],
    [[1.5,44],[1.8,39],[2.1,33],[2.4,26],[2.7,19],[3.0,13],[3.25,7],[3.45,2],[3.56,0]],
    [[0.8,36],[1.0,30],[1.2,24],[1.45,18],[1.65,12],[1.85,7],[2.0,4],[2.2,2],[2.5,1]],
    [[1.8,40],[2.1,34],[2.4,28],[2.7,22],[3.0,16],[3.3,10],[3.55,6],[3.8,3],[4.0,0],[4.2,2]],
    [[1.0,40],[1.25,34],[1.5,27],[1.75,20],[2.0,13],[2.25,8],[2.45,5],[2.7,3],[2.9,2],[3.2,1],[3.55,1]],
    [[1.3,38],[1.55,33],[1.8,27],[2.05,21],[2.3,15],[2.55,10],[2.8,6],[3.0,4],[3.3,2],[3.6,1]],
    [[2.0,38],[2.3,32],[2.6,25],[2.9,19],[3.2,13],[3.5,8],[3.7,4],[3.9,2],[4.2,2]],
    [[0.55,42],[0.75,37],[0.95,30],[1.15,23],[1.35,16],[1.55,10],[1.75,6],[1.95,4],[2.2,4],[2.4,4]],
    [[1.1,37],[1.3,31],[1.55,25],[1.8,19],[2.05,13],[2.3,9],[2.55,7],[2.8,5],[3.0,4]],
    [[2.4,36],[2.7,31],[3.0,25],[3.3,20],[3.6,14],[3.85,9],[4.05,5],[4.2,3]],
    [[1.6,34],[1.85,29],[2.1,23],[2.35,17],[2.6,11],[2.85,7],[3.05,5],[3.3,7],[3.5,5],[3.7,3],[4.0,2]],
    [[0.75,33],[0.95,28],[1.15,22],[1.4,17],[1.6,12],[1.8,9],[2.0,6],[2.2,6],[2.45,5]],
    [[2.2,40],[2.5,35],[2.8,30],[3.1,24],[3.4,19],[3.7,13],[3.95,9],[4.15,6],[4.4,4],[4.6,4]],
    [[1.4,31],[1.65,26],[1.9,20],[2.15,14],[2.4,9],[2.65,5],[2.85,3],[3.0,2],[3.25,1],[3.5,1]],
    [[2.6,33],[2.9,28],[3.2,22],[3.5,17],[3.8,12],[4.05,8],[4.3,5],[4.5,3]],
]

top_patients = [
    [[0.3,47],[0.6,47],[0.9,48],[1.2,47],[1.5,47],[1.8,46],[2.1,45],[2.4,43],[2.7,40],[3.0,37],[3.3,34],[3.6,30]],
    [[1.0,47],[1.3,48],[1.6,47],[1.9,48],[2.2,47],[2.5,48],[2.8,47],[3.1,46],[3.4,44],[3.7,41],[4.0,38]],
    [[0.5,47],[0.8,48],[1.1,47],[1.4,45],[1.7,42],[2.0,38],[2.3,34],[2.6,30],[2.9,25],[3.2,20]],
    [[2.5,48],[2.8,47],[3.1,48],[3.4,47],[3.6,48],[3.8,46],[4.1,44],[4.4,41],[4.7,38]],
    [[0.6,46],[0.9,47],[1.2,46],[1.5,47],[1.8,45],[2.1,43],[2.4,40],[2.7,37],[3.0,33],[3.3,29],[3.6,25]],
    [[0.32,32],[0.45,27],[0.58,22],[0.7,17],[0.85,12],[1.0,9]],
    [[0.35,28],[0.45,24],[0.56,19],[0.68,14],[0.8,11]],
    [[0.4,24],[0.5,20],[0.62,16],[0.75,12],[0.9,9],[1.0,8]],
]

late_patients = [
    [[4.2,33],[4.6,30],[5.0,27],[5.3,25],[5.6,24],[5.85,23],[7.37,23],[7.5,22],[8.02,22]],
    [[3.4,42],[3.9,39],[4.4,35],[4.9,31],[5.4,26],[5.8,23],[6.17,20],[7.35,18],[7.55,26]],
    [[3.6,47],[4.0,46],[4.4,45],[4.8,44],[5.1,43],[5.33,41],[5.63,40],[6.07,41],[6.28,39],[6.46,40],[6.85,41]],
    [[3.3,46],[3.8,44],[4.3,42],[4.8,41],[5.3,40],[5.85,39],[6.02,32],[6.2,35],[6.28,35],[6.35,15],[6.52,19],[6.67,16]],
    [[3.5,40],[4.0,38],[4.5,36],[5.0,34],[5.5,32],[6.0,31],[6.33,30],[6.71,28],[6.8,24],[7.1,19]],
    [[3.8,38],[4.3,35],[4.8,32],[5.3,27],[5.8,24],[6.2,25],[6.62,27],[6.8,24],[7.0,24],[7.23,21]],
    [[3.6,43],[4.1,40],[4.6,37],[5.1,34],[5.6,31],[6.02,30],[6.2,33],[6.37,30],[6.67,25]],
    [[4.0,30],[4.4,27],[4.8,24],[5.2,19],[5.45,16],[5.63,14],[5.93,10],[6.05,10]],
    [[4.5,42],[5.0,40],[5.5,39],[5.9,38],[6.1,37],[6.3,33],[6.48,14]],
    [[2.9,14],[3.3,10],[3.7,6],[4.1,4],[4.51,1],[4.8,1.2],[5.38,2],[5.55,1],[6.1,2]],
    [[3.17,1],[4.0,1.3],[5.0,1.7],[5.71,2]],
    [[3.2,30],[3.7,25],[4.2,19],[4.7,13],[5.2,8],[5.5,6],[5.76,4],[5.97,5]],
    [[3.0,32],[3.5,27],[4.0,22],[4.5,17],[5.0,12],[5.35,9],[5.63,8],[5.7,8]],
    [[3.1,35],[3.6,30],[4.1,25],[4.6,19],[5.1,13],[5.4,9],[5.71,6]],
    [[3.0,28],[3.5,24],[4.0,19],[4.5,14],[4.9,10],[5.29,5],[5.58,9]],
    [[3.5,35],[4.0,31],[4.5,27],[5.0,22],[5.33,19],[5.43,18],[5.58,19]],
    [[3.9,46],[4.3,45],[4.7,44],[5.0,44],[5.3,43],[5.6,44]],
    [[3.7,47],[4.2,46],[4.6,45],[5.0,43],[5.4,42],[5.75,42],[5.9,41]],
    [[3.4,36],[3.9,32],[4.4,28],[4.9,24],[5.3,21],[5.5,17],[5.6,14],[5.75,11]],
    [[3.7,42],[4.2,39],[4.7,35],[5.1,31],[5.5,28],[5.75,26],[6.0,27]],
    [[3.2,44],[3.8,42],[4.3,40],[4.8,38],[5.0,39],[5.2,38]],
    [[3.6,38],[4.1,35],[4.6,31],[5.0,27],[5.2,25],[5.4,20],[5.55,16]],
]

# Kaplan-Meier estimate (step function) with confidence band
km_time = [0, 0.5, 0.9, 1.1, 1.25, 1.4, 1.5, 1.6, 1.7, 1.8, 1.9, 2.0, 2.1, 2.2, 2.3, 2.4, 2.5,
           2.6, 2.7, 2.8, 2.9, 3.0, 3.1, 3.2, 3.3, 3.4, 3.5, 3.6, 3.7, 3.8, 3.9, 4.0, 4.1, 4.2,
           4.33, 4.38, 4.45, 4.55, 4.6, 4.64, 4.68, 4.72, 4.78, 4.85, 5.03, 5.1, 5.16, 5.24,
           5.59, 5.85, 5.93, 6.34, 6.63, 6.66, 7.41, 8.05]
km_surv = [1.0, 1.0, 0.998, 0.996, 0.993, 0.987, 0.981, 0.975, 0.968, 0.960, 0.953, 0.945, 0.936,
           0.925, 0.911, 0.897, 0.882, 0.867, 0.853, 0.839, 0.823, 0.808, 0.796, 0.785, 0.769,
           0.752, 0.735, 0.719, 0.706, 0.694, 0.676, 0.656, 0.643, 0.635, 0.627, 0.612, 0.605,
           0.596, 0.583, 0.569, 0.558, 0.548, 0.540, 0.534, 0.528, 0.517, 0.507, 0.476, 0.466,
           0.459, 0.415, 0.404, 0.367, 0.357, 0.232, 0.232]
km_upper = [1.0, 1.0, 1.0, 0.999, 0.997, 0.991, 0.986, 0.980, 0.974, 0.966, 0.959, 0.952, 0.943,
            0.933, 0.919, 0.905, 0.890, 0.875, 0.862, 0.848, 0.832, 0.817, 0.805, 0.794, 0.779,
            0.762, 0.745, 0.729, 0.716, 0.704, 0.687, 0.667, 0.655, 0.647, 0.639, 0.625, 0.618,
            0.609, 0.597, 0.583, 0.572, 0.562, 0.554, 0.549, 0.543, 0.533, 0.523, 0.491, 0.483,
            0.478, 0.433, 0.425, 0.390, 0.381, 0.272, 0.272]
km_lower = [1.0, 1.0, 0.995, 0.993, 0.989, 0.983, 0.976, 0.970, 0.962, 0.954, 0.947, 0.938, 0.929,
            0.917, 0.903, 0.889, 0.874, 0.859, 0.844, 0.830, 0.814, 0.799, 0.787, 0.776, 0.759,
            0.742, 0.725, 0.709, 0.696, 0.684, 0.665, 0.645, 0.631, 0.623, 0.615, 0.599, 0.592,
            0.583, 0.569, 0.555, 0.544, 0.534, 0.526, 0.519, 0.513, 0.501, 0.491, 0.459, 0.449,
            0.440, 0.395, 0.383, 0.343, 0.331, 0.193, 0.193]

x_ticks = [0, 2, 4, 6, 8, 10]
left_y_ticks = [0, 10, 20, 30, 40]
right_y_ticks = [0.0, 0.2, 0.4, 0.6, 0.8, 1.0]

# ---------------- STYLE ----------------
palette = ["#1f77b4", "#ff7f0e", "#2ca02c", "#d62728", "#9467bd",
           "#8c564b", "#e377c2", "#7f7f7f", "#bcbd22", "#17becf"]
late_colors = ["#d62728", "#17becf", "#8c564b", "#1f77b4", "#1f77b4", "#7f7f7f",
               "#bcbd22", "#8c564b", "#8c564b", "#e377c2", "#1f77b4", "#9467bd",
               "#ff7f0e", "#d62728", "#1f77b4", "#2ca02c", "#17becf", "#2ca02c",
               "#e377c2", "#8c564b", "#ff7f0e", "#17becf"]
FONT = "DejaVu Serif"
AXIS_GRAY = "rgba(0,0,0,0.55)"
GRID = "rgba(0,0,0,0.07)"

fig = go.Figure()

# interleave the groups so colours are spread as in a per-patient palette cycle
main_groups = [rapid_patients, dense_patients, typical_patients, extra_patients,
               slow_patients, floor_patients, top_patients]
ordered = []
maxlen = max(len(g) for g in main_groups)
for i in range(maxlen):
    for g in main_groups:
        if i < len(g):
            ordered.append(g[i])

for k, pat in enumerate(ordered):
    fig.add_trace(go.Scatter(
        x=[p[0] for p in pat], y=[p[1] for p in pat], mode="lines",
        line=dict(color=palette[k % 10], width=1.2), showlegend=False,
        hoverinfo="skip", xaxis="x", yaxis="y"))

for k, pat in enumerate(late_patients):
    fig.add_trace(go.Scatter(
        x=[p[0] for p in pat], y=[p[1] for p in pat], mode="lines",
        line=dict(color=late_colors[k], width=1), showlegend=False,
        hoverinfo="skip", xaxis="x", yaxis="y"))

# KM band
fig.add_trace(go.Scatter(
    x=km_time, y=km_lower, mode="lines", line=dict(shape="hv", color="rgba(31,119,180,0.35)", width=1),
    showlegend=False, hoverinfo="skip", xaxis="x2", yaxis="y2"))
fig.add_trace(go.Scatter(
    x=km_time, y=km_upper, mode="lines", line=dict(shape="hv", color="rgba(31,119,180,0.35)", width=1),
    fill="tonexty", fillcolor="rgba(31,119,180,0.28)",
    showlegend=False, hoverinfo="skip", xaxis="x2", yaxis="y2"))
fig.add_trace(go.Scatter(
    x=km_time, y=km_surv, mode="lines", line=dict(shape="hv", color="#1f77b4", width=1.3),
    name="Kaplan Meier", showlegend=True, xaxis="x2", yaxis="y2"))

axis_common = dict(
    showline=True, linecolor=AXIS_GRAY, linewidth=1, mirror=False,
    ticks="inside", ticklen=6, tickcolor=AXIS_GRAY, tickwidth=1,
    showgrid=True, gridcolor=GRID, gridwidth=1, zeroline=False, automargin=False,
    ticklabeloverflow="allow",
    tickfont=dict(family=FONT, size=20, color="#000000"),
)
title_font = dict(family=FONT, size=17.5, color="#000000", weight="bold")

x_dom_left = [0.0745, 0.4725]
x_dom_right = [0.5886, 0.9867]
y_dom = [0.1099, 0.9913]

fig.update_layout(
    width=989, height=564,
    margin=dict(l=0, r=0, t=0, b=0, autoexpand=False),
    paper_bgcolor="white", plot_bgcolor="white",
    font=dict(family=FONT, color="#000000"),
    xaxis=dict(axis_common, domain=x_dom_left, range=[-0.1, 10.1], tickvals=x_ticks,
               title=dict(text="Time from first symptoms (y)", font=title_font, standoff=11),
               anchor="y"),
    yaxis=dict(axis_common, domain=y_dom, range=[-0.48, 48.48], tickvals=left_y_ticks,
               title=dict(text="ALSFRSr", font=title_font, standoff=12), anchor="x"),
    xaxis2=dict(axis_common, domain=x_dom_right, range=[-0.1, 10.1], tickvals=x_ticks,
                title=dict(text="Time from first symptoms (y)", font=title_font, standoff=11),
                anchor="y2"),
    yaxis2=dict(axis_common, domain=y_dom, range=[-0.01, 1.016], tickvals=right_y_ticks,
                tickformat=".1f",
                title=dict(text="Survival", font=title_font, standoff=12), anchor="x2"),
    legend=dict(x=0.802, y=0.983, xanchor="left", yanchor="top", itemwidth=35,
                bgcolor="rgba(255,255,255,0)", borderwidth=0,
                font=dict(family=FONT, size=17.5, color="#000000")),
)

fig.write_html("out.html", config={"displayModeBar": False},
               post_script="document.body.style.margin='0';")
